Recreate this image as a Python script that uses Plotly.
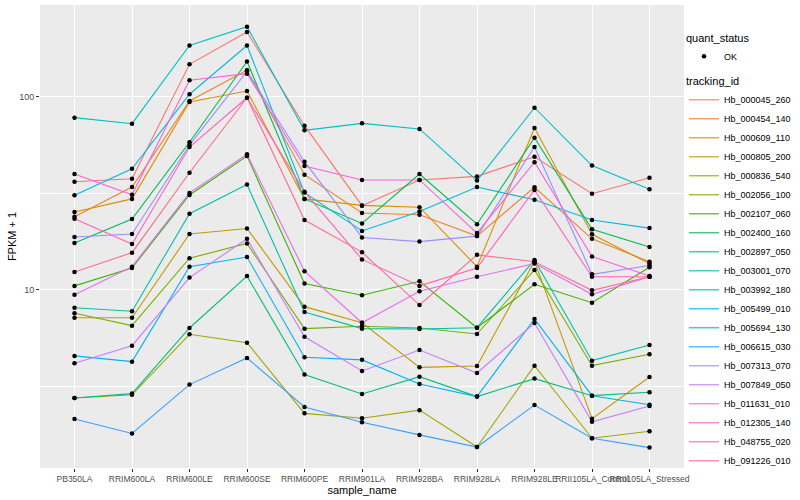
import plotly.graph_objects as go

samples = ["PB350LA", "RRIM600LA", "RRIM600LE", "RRIM600SE", "RRIM600PE",
           "RRIM901LA", "RRIM928BA", "RRIM928LA", "RRIM928LE",
           "RRII105LA_Control", "RRII105LA_Stressed"]

tracking_ids = ["Hb_000045_260", "Hb_000454_140", "Hb_000609_110", "Hb_000805_200",
                "Hb_000836_540", "Hb_002056_100", "Hb_002107_060", "Hb_002400_160",
                "Hb_002897_050", "Hb_003001_070", "Hb_003992_180", "Hb_005499_010",
                "Hb_005694_130", "Hb_006615_030", "Hb_007313_070", "Hb_007849_050",
                "Hb_011631_010", "Hb_012305_140", "Hb_048755_020", "Hb_091226_010"]

colors = ["#F8766D", "#EA8331", "#D89000", "#C09B00", "#A3A500", "#7CAE00", "#39B600",
          "#00BB4E", "#00BF7D", "#00C1A3", "#00BFC4", "#00BAE0", "#00B0F6", "#35A2FF",
          "#9590FF", "#C77CFF", "#E76BF3", "#FA62DB", "#FF62BC", "#FF6C91"]

hb_000045_260 = [36.3, 37.6, 147, 216, 70.8, 27.3, 37.1, 38.7, 48.9, 31.5, 38.1]
hb_000454_140 = [23.9, 34.1, 95, 137, 39.5, 25.0, 24.5, 19.0, 34.0, 18.4, 14.0]
hb_000609_110 = [25.3, 29.6, 93.9, 107, 29.6, 27.4, 26.8, 13.2, 68.9, 19.4, 13.7]
hb_000805_200 = [7.19, 7.19, 19.5, 20.8, 8.2, 6.77, 3.98, 4.04, 14.1, 2.16, 3.55]
hb_000836_540 = [2.76, 2.87, 5.90, 5.34, 2.30, 2.17, 2.39, 1.54, 4.06, 1.71, 1.86]
hb_002056_100 = [7.58, 6.54, 14.6, 17.4, 6.31, 6.49, 6.36, 5.92, 12.7, 4.06, 4.65]
hb_002107_060 = [10.5, 13.0, 31.0, 49.3, 10.8, 9.39, 11.1, 6.38, 10.7, 8.6, 13.1]
hb_002400_160 = [17.5, 23.3, 58.1, 152, 29.6, 22.1, 39.8, 21.9, 61.4, 20.6, 16.7]
hb_002897_050 = [2.76, 2.91, 6.36, 11.8, 3.65, 2.90, 3.56, 2.81, 3.48, 2.84, 2.96]
hb_003001_070 = [8.1, 7.76, 24.8, 35.1, 7.69, 6.31, 6.28, 6.38, 14.3, 4.31, 5.19]
hb_003992_180 = [77.9, 72.5, 184, 230, 67.0, 72.8, 68.1, 36.8, 87.7, 44.0, 33.2]
hb_005499_010 = [30.9, 42.4, 103, 184, 31.9, 20.2, 25.5, 34.1, 29.3, 23.0, 20.9]
hb_005694_130 = [4.56, 4.26, 13.2, 14.8, 4.49, 4.35, 3.26, 2.81, 7.08, 2.84, 2.55]
hb_006615_030 = [2.15, 1.81, 3.24, 4.45, 2.48, 2.07, 1.78, 1.54, 2.54, 1.71, 1.53]
hb_007313_070 = [18.8, 19.5, 56.2, 135, 46.1, 18.7, 17.8, 19.0, 54.9, 12.06, 13.4]
hb_007849_050 = [4.18, 5.15, 11.6, 18.4, 5.73, 3.81, 4.89, 3.72, 6.75, 2.08, 2.51]
hb_011631_010 = [9.46, 13.2, 31.8, 50.4, 12.5, 6.77, 9.85, 11.7, 13.7, 9.5, 11.7]
hb_012305_140 = [39.8, 31.1, 121.6, 131.5, 43.8, 37.1, 37.1, 19.7, 45.8, 14.9, 11.8]
hb_048755_020 = [23.4, 17.3, 54.9, 98.8, 32.2, 14.4, 10.5, 13.0, 32.9, 11.7, 11.7]
hb_091226_010 = [12.4, 15.6, 40.4, 98.8, 23.0, 15.7, 8.36, 15.2, 14.0, 9.96, 11.7]

series = [hb_000045_260, hb_000454_140, hb_000609_110, hb_000805_200, hb_000836_540,
          hb_002056_100, hb_002107_060, hb_002400_160, hb_002897_050, hb_003001_070,
          hb_003992_180, hb_005499_010, hb_005694_130, hb_006615_030, hb_007313_070,
          hb_007849_050, hb_011631_010, hb_012305_140, hb_048755_020, hb_091226_010]

FONT = "Liberation Sans, Arial, Helvetica, sans-serif"

fig = go.Figure()
for tid, col, vals in zip(tracking_ids, colors, series):
    fig.add_trace(go.Scatter(x=samples, y=vals, mode="lines", name=tid,
                             line=dict(color=col, width=1.1), legend="legend2"))

all_x = [s for _ in series for s in samples]
all_y = [v for vals in series for v in vals]
fig.add_trace(go.Scatter(x=all_x, y=all_y, mode="markers", name="OK",
                         marker=dict(color="black", size=4.5), legend="legend",
                         showlegend=True))

fig.update_layout(
    width=800, height=500,
    margin=dict(l=40, r=116, t=5, b=32, autoexpand=False),
    showlegend=True,
    paper_bgcolor="white", plot_bgcolor="#EBEBEB",
    font=dict(family=FONT, size=9, color="#4D4D4D"),
    xaxis=dict(type="category", categoryorder="array", categoryarray=samples,
               range=[-0.6, 10.6], showgrid=True, gridcolor="white", gridwidth=1.1,
               ticks="outside", ticklen=3, tickcolor="#333333", tickwidth=1,
               tickfont=dict(family=FONT, size=8.5, color="#4D4D4D"),
               title=dict(text="sample_name", font=dict(family=FONT, size=11, color="black"),
                          standoff=1),
               zeroline=False, showline=False, tickangle=0, automargin=False),
    yaxis=dict(type="log", range=[0.0791, 2.4744], tickvals=[10, 100], ticktext=["10", "100"],
               showgrid=True, gridcolor="white", gridwidth=1.1,
               minor=dict(tickvals=[10 ** 0.5, 10 ** 1.5], showgrid=True,
                          gridcolor="white", gridwidth=0.55, ticks=""),
               ticks="outside", ticklen=3, tickcolor="#333333", tickwidth=1,
               tickfont=dict(family=FONT, size=9, color="#4D4D4D"),
               title=dict(text="FPKM + 1", font=dict(family=FONT, size=11, color="black"),
                          standoff=0),
               zeroline=False, showline=False, automargin=False),
    legend=dict(title=dict(text="quant_status", font=dict(family=FONT, size=11, color="black")),
                xref="container", yref="container",
                x=0.855, xanchor="left", y=0.945, yanchor="top",
                font=dict(family=FONT, size=9, color="black"),
                bgcolor="rgba(0,0,0,0)", itemwidth=30, visible=True),
    legend2=dict(title=dict(text="tracking_id", font=dict(family=FONT, size=11, color="black")),
                 xref="container", yref="container",
                 x=0.855, xanchor="left", y=0.858, yanchor="top",
                 font=dict(family=FONT, size=9, color="black"),
                 bgcolor="rgba(0,0,0,0)", itemwidth=30, visible=True, maxheight=440),
)

fig.write_html("out.html", config={"displayModeBar": False},
               post_script="document.body.style.margin='0';document.body.style.overflow='hidden';")
